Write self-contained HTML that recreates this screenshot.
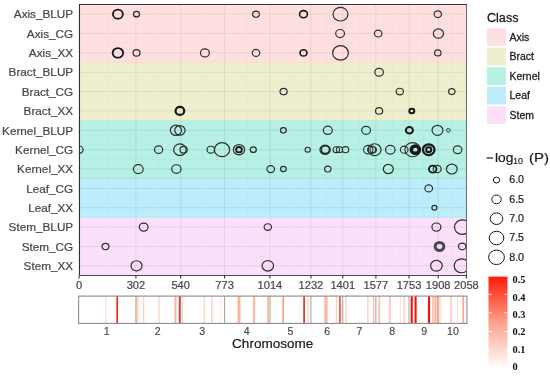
<!DOCTYPE html><html><head><meta charset="utf-8"><style>html,body{margin:0;padding:0;background:#fff;}svg{display:block;filter:blur(0.3px);}text{font-family:"Liberation Sans",sans-serif;}</style></head><body>
<svg width="550" height="377" viewBox="0 0 550 377">
<rect x="0" y="0" width="550" height="377" fill="#fff"/>
<defs><clipPath id="pc"><rect x="79.50" y="4.50" width="387.00" height="271.00"/></clipPath>
<linearGradient id="rg" x1="0" y1="1" x2="0" y2="0"><stop offset="0" stop-color="#FFFFFF"/><stop offset="0.5" stop-color="#FCA28C"/><stop offset="1" stop-color="#FF1A0A"/></linearGradient></defs>
<rect x="79.50" y="4.50" width="387.00" height="58.07" fill="#FDE0DF"/>
<line x1="79.50" x2="466.50" y1="14.18" y2="14.18" stroke="#F4CECE" stroke-width="1"/>
<line x1="79.50" x2="466.50" y1="23.86" y2="23.86" stroke="#FADBDA" stroke-width="1"/>
<line x1="79.50" x2="466.50" y1="33.54" y2="33.54" stroke="#F4CECE" stroke-width="1"/>
<line x1="79.50" x2="466.50" y1="43.21" y2="43.21" stroke="#FADBDA" stroke-width="1"/>
<line x1="79.50" x2="466.50" y1="52.89" y2="52.89" stroke="#F4CECE" stroke-width="1"/>
<line x1="79.10" x2="79.10" y1="4.50" y2="62.57" stroke="#F4CECE" stroke-width="1"/>
<line x1="107.52" x2="107.52" y1="4.50" y2="62.57" stroke="#FADBDA" stroke-width="1"/>
<line x1="135.93" x2="135.93" y1="4.50" y2="62.57" stroke="#F4CECE" stroke-width="1"/>
<line x1="158.33" x2="158.33" y1="4.50" y2="62.57" stroke="#FADBDA" stroke-width="1"/>
<line x1="180.72" x2="180.72" y1="4.50" y2="62.57" stroke="#F4CECE" stroke-width="1"/>
<line x1="202.65" x2="202.65" y1="4.50" y2="62.57" stroke="#FADBDA" stroke-width="1"/>
<line x1="224.57" x2="224.57" y1="4.50" y2="62.57" stroke="#F4CECE" stroke-width="1"/>
<line x1="247.25" x2="247.25" y1="4.50" y2="62.57" stroke="#FADBDA" stroke-width="1"/>
<line x1="269.93" x2="269.93" y1="4.50" y2="62.57" stroke="#F4CECE" stroke-width="1"/>
<line x1="290.44" x2="290.44" y1="4.50" y2="62.57" stroke="#FADBDA" stroke-width="1"/>
<line x1="310.95" x2="310.95" y1="4.50" y2="62.57" stroke="#F4CECE" stroke-width="1"/>
<line x1="326.86" x2="326.86" y1="4.50" y2="62.57" stroke="#FADBDA" stroke-width="1"/>
<line x1="342.76" x2="342.76" y1="4.50" y2="62.57" stroke="#F4CECE" stroke-width="1"/>
<line x1="359.32" x2="359.32" y1="4.50" y2="62.57" stroke="#FADBDA" stroke-width="1"/>
<line x1="375.88" x2="375.88" y1="4.50" y2="62.57" stroke="#F4CECE" stroke-width="1"/>
<line x1="392.44" x2="392.44" y1="4.50" y2="62.57" stroke="#FADBDA" stroke-width="1"/>
<line x1="409.00" x2="409.00" y1="4.50" y2="62.57" stroke="#F4CECE" stroke-width="1"/>
<line x1="423.59" x2="423.59" y1="4.50" y2="62.57" stroke="#FADBDA" stroke-width="1"/>
<line x1="438.17" x2="438.17" y1="4.50" y2="62.57" stroke="#F4CECE" stroke-width="1"/>
<line x1="452.29" x2="452.29" y1="4.50" y2="62.57" stroke="#FADBDA" stroke-width="1"/>
<line x1="466.40" x2="466.40" y1="4.50" y2="62.57" stroke="#F4CECE" stroke-width="1"/>
<rect x="79.50" y="62.57" width="387.00" height="58.07" fill="#EEEFCE"/>
<line x1="79.50" x2="466.50" y1="72.25" y2="72.25" stroke="#DDDEBB" stroke-width="1"/>
<line x1="79.50" x2="466.50" y1="81.93" y2="81.93" stroke="#E9EAC9" stroke-width="1"/>
<line x1="79.50" x2="466.50" y1="91.61" y2="91.61" stroke="#DDDEBB" stroke-width="1"/>
<line x1="79.50" x2="466.50" y1="101.29" y2="101.29" stroke="#E9EAC9" stroke-width="1"/>
<line x1="79.50" x2="466.50" y1="110.96" y2="110.96" stroke="#DDDEBB" stroke-width="1"/>
<line x1="79.10" x2="79.10" y1="62.57" y2="120.64" stroke="#DDDEBB" stroke-width="1"/>
<line x1="107.52" x2="107.52" y1="62.57" y2="120.64" stroke="#E9EAC9" stroke-width="1"/>
<line x1="135.93" x2="135.93" y1="62.57" y2="120.64" stroke="#DDDEBB" stroke-width="1"/>
<line x1="158.33" x2="158.33" y1="62.57" y2="120.64" stroke="#E9EAC9" stroke-width="1"/>
<line x1="180.72" x2="180.72" y1="62.57" y2="120.64" stroke="#DDDEBB" stroke-width="1"/>
<line x1="202.65" x2="202.65" y1="62.57" y2="120.64" stroke="#E9EAC9" stroke-width="1"/>
<line x1="224.57" x2="224.57" y1="62.57" y2="120.64" stroke="#DDDEBB" stroke-width="1"/>
<line x1="247.25" x2="247.25" y1="62.57" y2="120.64" stroke="#E9EAC9" stroke-width="1"/>
<line x1="269.93" x2="269.93" y1="62.57" y2="120.64" stroke="#DDDEBB" stroke-width="1"/>
<line x1="290.44" x2="290.44" y1="62.57" y2="120.64" stroke="#E9EAC9" stroke-width="1"/>
<line x1="310.95" x2="310.95" y1="62.57" y2="120.64" stroke="#DDDEBB" stroke-width="1"/>
<line x1="326.86" x2="326.86" y1="62.57" y2="120.64" stroke="#E9EAC9" stroke-width="1"/>
<line x1="342.76" x2="342.76" y1="62.57" y2="120.64" stroke="#DDDEBB" stroke-width="1"/>
<line x1="359.32" x2="359.32" y1="62.57" y2="120.64" stroke="#E9EAC9" stroke-width="1"/>
<line x1="375.88" x2="375.88" y1="62.57" y2="120.64" stroke="#DDDEBB" stroke-width="1"/>
<line x1="392.44" x2="392.44" y1="62.57" y2="120.64" stroke="#E9EAC9" stroke-width="1"/>
<line x1="409.00" x2="409.00" y1="62.57" y2="120.64" stroke="#DDDEBB" stroke-width="1"/>
<line x1="423.59" x2="423.59" y1="62.57" y2="120.64" stroke="#E9EAC9" stroke-width="1"/>
<line x1="438.17" x2="438.17" y1="62.57" y2="120.64" stroke="#DDDEBB" stroke-width="1"/>
<line x1="452.29" x2="452.29" y1="62.57" y2="120.64" stroke="#E9EAC9" stroke-width="1"/>
<line x1="466.40" x2="466.40" y1="62.57" y2="120.64" stroke="#DDDEBB" stroke-width="1"/>
<rect x="79.50" y="120.64" width="387.00" height="58.07" fill="#B7F0E4"/>
<line x1="79.50" x2="466.50" y1="130.32" y2="130.32" stroke="#A4DDD1" stroke-width="1"/>
<line x1="79.50" x2="466.50" y1="140.00" y2="140.00" stroke="#B3EBDF" stroke-width="1"/>
<line x1="79.50" x2="466.50" y1="149.68" y2="149.68" stroke="#A4DDD1" stroke-width="1"/>
<line x1="79.50" x2="466.50" y1="159.36" y2="159.36" stroke="#B3EBDF" stroke-width="1"/>
<line x1="79.50" x2="466.50" y1="169.04" y2="169.04" stroke="#A4DDD1" stroke-width="1"/>
<line x1="79.10" x2="79.10" y1="120.64" y2="178.71" stroke="#A4DDD1" stroke-width="1"/>
<line x1="107.52" x2="107.52" y1="120.64" y2="178.71" stroke="#B3EBDF" stroke-width="1"/>
<line x1="135.93" x2="135.93" y1="120.64" y2="178.71" stroke="#A4DDD1" stroke-width="1"/>
<line x1="158.33" x2="158.33" y1="120.64" y2="178.71" stroke="#B3EBDF" stroke-width="1"/>
<line x1="180.72" x2="180.72" y1="120.64" y2="178.71" stroke="#A4DDD1" stroke-width="1"/>
<line x1="202.65" x2="202.65" y1="120.64" y2="178.71" stroke="#B3EBDF" stroke-width="1"/>
<line x1="224.57" x2="224.57" y1="120.64" y2="178.71" stroke="#A4DDD1" stroke-width="1"/>
<line x1="247.25" x2="247.25" y1="120.64" y2="178.71" stroke="#B3EBDF" stroke-width="1"/>
<line x1="269.93" x2="269.93" y1="120.64" y2="178.71" stroke="#A4DDD1" stroke-width="1"/>
<line x1="290.44" x2="290.44" y1="120.64" y2="178.71" stroke="#B3EBDF" stroke-width="1"/>
<line x1="310.95" x2="310.95" y1="120.64" y2="178.71" stroke="#A4DDD1" stroke-width="1"/>
<line x1="326.86" x2="326.86" y1="120.64" y2="178.71" stroke="#B3EBDF" stroke-width="1"/>
<line x1="342.76" x2="342.76" y1="120.64" y2="178.71" stroke="#A4DDD1" stroke-width="1"/>
<line x1="359.32" x2="359.32" y1="120.64" y2="178.71" stroke="#B3EBDF" stroke-width="1"/>
<line x1="375.88" x2="375.88" y1="120.64" y2="178.71" stroke="#A4DDD1" stroke-width="1"/>
<line x1="392.44" x2="392.44" y1="120.64" y2="178.71" stroke="#B3EBDF" stroke-width="1"/>
<line x1="409.00" x2="409.00" y1="120.64" y2="178.71" stroke="#A4DDD1" stroke-width="1"/>
<line x1="423.59" x2="423.59" y1="120.64" y2="178.71" stroke="#B3EBDF" stroke-width="1"/>
<line x1="438.17" x2="438.17" y1="120.64" y2="178.71" stroke="#A4DDD1" stroke-width="1"/>
<line x1="452.29" x2="452.29" y1="120.64" y2="178.71" stroke="#B3EBDF" stroke-width="1"/>
<line x1="466.40" x2="466.40" y1="120.64" y2="178.71" stroke="#A4DDD1" stroke-width="1"/>
<rect x="79.50" y="178.71" width="387.00" height="38.71" fill="#BDEDFB"/>
<line x1="79.50" x2="466.50" y1="188.39" y2="188.39" stroke="#AADBEA" stroke-width="1"/>
<line x1="79.50" x2="466.50" y1="198.07" y2="198.07" stroke="#B8E8F6" stroke-width="1"/>
<line x1="79.50" x2="466.50" y1="207.75" y2="207.75" stroke="#AADBEA" stroke-width="1"/>
<line x1="79.10" x2="79.10" y1="178.71" y2="217.43" stroke="#AADBEA" stroke-width="1"/>
<line x1="107.52" x2="107.52" y1="178.71" y2="217.43" stroke="#B8E8F6" stroke-width="1"/>
<line x1="135.93" x2="135.93" y1="178.71" y2="217.43" stroke="#AADBEA" stroke-width="1"/>
<line x1="158.33" x2="158.33" y1="178.71" y2="217.43" stroke="#B8E8F6" stroke-width="1"/>
<line x1="180.72" x2="180.72" y1="178.71" y2="217.43" stroke="#AADBEA" stroke-width="1"/>
<line x1="202.65" x2="202.65" y1="178.71" y2="217.43" stroke="#B8E8F6" stroke-width="1"/>
<line x1="224.57" x2="224.57" y1="178.71" y2="217.43" stroke="#AADBEA" stroke-width="1"/>
<line x1="247.25" x2="247.25" y1="178.71" y2="217.43" stroke="#B8E8F6" stroke-width="1"/>
<line x1="269.93" x2="269.93" y1="178.71" y2="217.43" stroke="#AADBEA" stroke-width="1"/>
<line x1="290.44" x2="290.44" y1="178.71" y2="217.43" stroke="#B8E8F6" stroke-width="1"/>
<line x1="310.95" x2="310.95" y1="178.71" y2="217.43" stroke="#AADBEA" stroke-width="1"/>
<line x1="326.86" x2="326.86" y1="178.71" y2="217.43" stroke="#B8E8F6" stroke-width="1"/>
<line x1="342.76" x2="342.76" y1="178.71" y2="217.43" stroke="#AADBEA" stroke-width="1"/>
<line x1="359.32" x2="359.32" y1="178.71" y2="217.43" stroke="#B8E8F6" stroke-width="1"/>
<line x1="375.88" x2="375.88" y1="178.71" y2="217.43" stroke="#AADBEA" stroke-width="1"/>
<line x1="392.44" x2="392.44" y1="178.71" y2="217.43" stroke="#B8E8F6" stroke-width="1"/>
<line x1="409.00" x2="409.00" y1="178.71" y2="217.43" stroke="#AADBEA" stroke-width="1"/>
<line x1="423.59" x2="423.59" y1="178.71" y2="217.43" stroke="#B8E8F6" stroke-width="1"/>
<line x1="438.17" x2="438.17" y1="178.71" y2="217.43" stroke="#AADBEA" stroke-width="1"/>
<line x1="452.29" x2="452.29" y1="178.71" y2="217.43" stroke="#B8E8F6" stroke-width="1"/>
<line x1="466.40" x2="466.40" y1="178.71" y2="217.43" stroke="#AADBEA" stroke-width="1"/>
<rect x="79.50" y="217.43" width="387.00" height="58.07" fill="#FCE0FA"/>
<line x1="79.50" x2="466.50" y1="227.11" y2="227.11" stroke="#EDCDEB" stroke-width="1"/>
<line x1="79.50" x2="466.50" y1="236.79" y2="236.79" stroke="#F8DBF6" stroke-width="1"/>
<line x1="79.50" x2="466.50" y1="246.46" y2="246.46" stroke="#EDCDEB" stroke-width="1"/>
<line x1="79.50" x2="466.50" y1="256.14" y2="256.14" stroke="#F8DBF6" stroke-width="1"/>
<line x1="79.50" x2="466.50" y1="265.82" y2="265.82" stroke="#EDCDEB" stroke-width="1"/>
<line x1="79.10" x2="79.10" y1="217.43" y2="275.50" stroke="#EDCDEB" stroke-width="1"/>
<line x1="107.52" x2="107.52" y1="217.43" y2="275.50" stroke="#F8DBF6" stroke-width="1"/>
<line x1="135.93" x2="135.93" y1="217.43" y2="275.50" stroke="#EDCDEB" stroke-width="1"/>
<line x1="158.33" x2="158.33" y1="217.43" y2="275.50" stroke="#F8DBF6" stroke-width="1"/>
<line x1="180.72" x2="180.72" y1="217.43" y2="275.50" stroke="#EDCDEB" stroke-width="1"/>
<line x1="202.65" x2="202.65" y1="217.43" y2="275.50" stroke="#F8DBF6" stroke-width="1"/>
<line x1="224.57" x2="224.57" y1="217.43" y2="275.50" stroke="#EDCDEB" stroke-width="1"/>
<line x1="247.25" x2="247.25" y1="217.43" y2="275.50" stroke="#F8DBF6" stroke-width="1"/>
<line x1="269.93" x2="269.93" y1="217.43" y2="275.50" stroke="#EDCDEB" stroke-width="1"/>
<line x1="290.44" x2="290.44" y1="217.43" y2="275.50" stroke="#F8DBF6" stroke-width="1"/>
<line x1="310.95" x2="310.95" y1="217.43" y2="275.50" stroke="#EDCDEB" stroke-width="1"/>
<line x1="326.86" x2="326.86" y1="217.43" y2="275.50" stroke="#F8DBF6" stroke-width="1"/>
<line x1="342.76" x2="342.76" y1="217.43" y2="275.50" stroke="#EDCDEB" stroke-width="1"/>
<line x1="359.32" x2="359.32" y1="217.43" y2="275.50" stroke="#F8DBF6" stroke-width="1"/>
<line x1="375.88" x2="375.88" y1="217.43" y2="275.50" stroke="#EDCDEB" stroke-width="1"/>
<line x1="392.44" x2="392.44" y1="217.43" y2="275.50" stroke="#F8DBF6" stroke-width="1"/>
<line x1="409.00" x2="409.00" y1="217.43" y2="275.50" stroke="#EDCDEB" stroke-width="1"/>
<line x1="423.59" x2="423.59" y1="217.43" y2="275.50" stroke="#F8DBF6" stroke-width="1"/>
<line x1="438.17" x2="438.17" y1="217.43" y2="275.50" stroke="#EDCDEB" stroke-width="1"/>
<line x1="452.29" x2="452.29" y1="217.43" y2="275.50" stroke="#F8DBF6" stroke-width="1"/>
<line x1="466.40" x2="466.40" y1="217.43" y2="275.50" stroke="#EDCDEB" stroke-width="1"/>
<line x1="79.50" x2="466.50" y1="62.27" y2="62.27" stroke="#F3DEC8" stroke-width="1"/>
<line x1="79.50" x2="466.50" y1="120.34" y2="120.34" stroke="#CDE6CD" stroke-width="1"/>
<line x1="79.50" x2="466.50" y1="178.41" y2="178.41" stroke="#A8E2D8" stroke-width="1"/>
<line x1="79.50" x2="466.50" y1="217.13" y2="217.13" stroke="#B2E6F6" stroke-width="1"/>
<g clip-path="url(#pc)" fill="none" stroke="#2e2e2e">
<ellipse cx="117.90" cy="14.18" rx="4.95" ry="4.54" stroke-width="1.80" stroke="#161616"/>
<ellipse cx="136.50" cy="14.18" rx="3.00" ry="2.75" stroke-width="1.20"/>
<ellipse cx="256.00" cy="14.18" rx="3.35" ry="3.07" stroke-width="1.20"/>
<ellipse cx="303.50" cy="14.18" rx="3.90" ry="3.58" stroke-width="1.60" stroke="#161616"/>
<ellipse cx="340.50" cy="14.18" rx="7.45" ry="6.83" stroke-width="1.20"/>
<ellipse cx="437.80" cy="14.18" rx="3.65" ry="3.35" stroke-width="1.20"/>
<ellipse cx="340.10" cy="33.54" rx="4.40" ry="4.04" stroke-width="1.20"/>
<ellipse cx="378.20" cy="33.54" rx="3.75" ry="3.44" stroke-width="1.20"/>
<ellipse cx="438.40" cy="33.54" rx="5.10" ry="4.68" stroke-width="1.20"/>
<ellipse cx="117.90" cy="52.89" rx="5.25" ry="4.82" stroke-width="1.80" stroke="#161616"/>
<ellipse cx="136.50" cy="52.89" rx="3.45" ry="3.17" stroke-width="1.20"/>
<ellipse cx="204.90" cy="52.89" rx="4.45" ry="4.08" stroke-width="1.20"/>
<ellipse cx="256.00" cy="52.89" rx="3.75" ry="3.44" stroke-width="1.20"/>
<ellipse cx="303.50" cy="52.89" rx="3.45" ry="3.17" stroke-width="1.60" stroke="#161616"/>
<ellipse cx="340.50" cy="52.89" rx="7.85" ry="7.20" stroke-width="1.20"/>
<ellipse cx="437.80" cy="52.89" rx="3.25" ry="2.98" stroke-width="1.20"/>
<ellipse cx="379.10" cy="72.25" rx="4.30" ry="3.94" stroke-width="1.20"/>
<ellipse cx="283.60" cy="91.61" rx="3.55" ry="3.26" stroke-width="1.20"/>
<ellipse cx="399.80" cy="91.61" rx="3.65" ry="3.35" stroke-width="1.20"/>
<ellipse cx="451.80" cy="91.61" rx="3.20" ry="2.94" stroke-width="1.20"/>
<ellipse cx="179.90" cy="110.96" rx="4.35" ry="3.99" stroke-width="2.20" stroke="#161616"/>
<ellipse cx="379.10" cy="110.96" rx="3.55" ry="3.26" stroke-width="1.20"/>
<ellipse cx="411.80" cy="110.96" rx="2.50" ry="2.29" stroke-width="2.00" stroke="#161616"/>
<ellipse cx="175.90" cy="130.32" rx="5.60" ry="5.14" stroke-width="1.20"/>
<ellipse cx="179.90" cy="130.32" rx="5.20" ry="4.77" stroke-width="1.20"/>
<ellipse cx="283.40" cy="130.32" rx="2.95" ry="2.71" stroke-width="1.20"/>
<ellipse cx="327.80" cy="130.32" rx="4.50" ry="4.13" stroke-width="1.20"/>
<ellipse cx="366.10" cy="130.32" rx="4.40" ry="4.04" stroke-width="1.20"/>
<ellipse cx="409.40" cy="130.32" rx="3.55" ry="3.26" stroke-width="2.00" stroke="#161616"/>
<ellipse cx="437.50" cy="130.32" rx="5.45" ry="5.00" stroke-width="1.20"/>
<ellipse cx="448.30" cy="130.32" rx="1.90" ry="1.74" stroke-width="1.00"/>
<ellipse cx="79.10" cy="149.68" rx="4.00" ry="3.67" stroke-width="1.20"/>
<ellipse cx="158.60" cy="149.68" rx="4.10" ry="3.76" stroke-width="1.20"/>
<ellipse cx="179.90" cy="149.68" rx="6.25" ry="5.73" stroke-width="1.20"/>
<ellipse cx="183.60" cy="149.68" rx="3.60" ry="3.30" stroke-width="1.20"/>
<ellipse cx="210.80" cy="149.68" rx="3.75" ry="3.44" stroke-width="1.20"/>
<ellipse cx="222.00" cy="149.68" rx="7.60" ry="6.97" stroke-width="1.20"/>
<ellipse cx="239.00" cy="149.68" rx="5.60" ry="5.14" stroke-width="1.20"/>
<ellipse cx="239.00" cy="149.68" rx="2.90" ry="2.66" stroke-width="1.80" stroke="#161616"/>
<ellipse cx="253.30" cy="149.68" rx="3.00" ry="2.75" stroke-width="1.20"/>
<ellipse cx="307.70" cy="149.68" rx="2.65" ry="2.43" stroke-width="1.10"/>
<ellipse cx="325.00" cy="149.68" rx="5.00" ry="4.59" stroke-width="1.30"/>
<ellipse cx="325.80" cy="149.68" rx="4.35" ry="3.99" stroke-width="1.20"/>
<ellipse cx="325.30" cy="149.68" rx="4.00" ry="3.67" stroke-width="1.20"/>
<ellipse cx="336.30" cy="149.68" rx="3.25" ry="2.98" stroke-width="1.10"/>
<ellipse cx="339.50" cy="149.68" rx="3.15" ry="2.89" stroke-width="1.10"/>
<ellipse cx="345.50" cy="149.68" rx="3.30" ry="3.03" stroke-width="1.10"/>
<ellipse cx="368.30" cy="149.68" rx="4.70" ry="4.31" stroke-width="1.10"/>
<ellipse cx="371.60" cy="149.68" rx="4.00" ry="3.67" stroke-width="1.10"/>
<ellipse cx="373.20" cy="149.68" rx="3.25" ry="2.98" stroke-width="1.10"/>
<ellipse cx="374.60" cy="149.68" rx="6.45" ry="5.92" stroke-width="1.20"/>
<ellipse cx="390.30" cy="149.68" rx="4.75" ry="4.36" stroke-width="1.20"/>
<ellipse cx="404.20" cy="149.68" rx="3.85" ry="3.53" stroke-width="1.10"/>
<ellipse cx="412.60" cy="149.68" rx="7.70" ry="7.06" stroke-width="1.10"/>
<ellipse cx="415.30" cy="149.68" rx="4.00" ry="3.67" stroke-width="3.50" stroke="#161616"/>
<ellipse cx="428.70" cy="149.68" rx="5.85" ry="5.37" stroke-width="2.20" stroke="#161616"/>
<ellipse cx="428.70" cy="149.68" rx="5.15" ry="4.72" stroke-width="0.80"/>
<ellipse cx="428.70" cy="149.68" rx="2.60" ry="2.39" stroke-width="2.00" stroke="#161616"/>
<ellipse cx="457.60" cy="149.68" rx="4.25" ry="3.90" stroke-width="1.20"/>
<ellipse cx="138.30" cy="169.04" rx="4.90" ry="4.50" stroke-width="1.20"/>
<ellipse cx="176.40" cy="169.04" rx="4.65" ry="4.27" stroke-width="1.20"/>
<ellipse cx="270.70" cy="169.04" rx="3.80" ry="3.49" stroke-width="1.20"/>
<ellipse cx="283.40" cy="169.04" rx="2.80" ry="2.57" stroke-width="1.20"/>
<ellipse cx="327.80" cy="169.04" rx="3.20" ry="2.94" stroke-width="1.20"/>
<ellipse cx="388.30" cy="169.04" rx="5.00" ry="4.59" stroke-width="1.20"/>
<ellipse cx="432.70" cy="169.04" rx="3.80" ry="3.49" stroke-width="1.80" stroke="#161616"/>
<ellipse cx="437.20" cy="169.04" rx="4.00" ry="3.67" stroke-width="1.20"/>
<ellipse cx="451.80" cy="169.04" rx="5.40" ry="4.95" stroke-width="1.20"/>
<ellipse cx="428.70" cy="188.39" rx="3.80" ry="3.49" stroke-width="1.20"/>
<ellipse cx="434.40" cy="207.75" rx="2.55" ry="2.34" stroke-width="1.20"/>
<ellipse cx="143.70" cy="227.11" rx="4.40" ry="4.04" stroke-width="1.20"/>
<ellipse cx="267.80" cy="227.11" rx="3.65" ry="3.35" stroke-width="1.20"/>
<ellipse cx="436.40" cy="227.11" rx="4.50" ry="4.13" stroke-width="1.20"/>
<ellipse cx="462.40" cy="227.11" rx="7.95" ry="7.29" stroke-width="1.20"/>
<ellipse cx="105.50" cy="246.46" rx="3.45" ry="3.17" stroke-width="1.20"/>
<ellipse cx="439.50" cy="246.46" rx="4.35" ry="3.99" stroke-width="3.00" stroke="#484848"/>
<ellipse cx="462.20" cy="246.46" rx="3.70" ry="3.39" stroke-width="1.20"/>
<ellipse cx="136.50" cy="265.82" rx="5.55" ry="5.09" stroke-width="1.20"/>
<ellipse cx="267.80" cy="265.82" rx="5.75" ry="5.28" stroke-width="1.20"/>
<ellipse cx="436.40" cy="265.82" rx="5.85" ry="5.37" stroke-width="1.20"/>
<ellipse cx="461.70" cy="265.82" rx="7.55" ry="6.93" stroke-width="1.20"/>
</g>
<path d="M79.00 4.50 H467.00 M79.50 4.50 V275.50" fill="none" stroke="#333" stroke-width="1.05"/>
<line x1="80.00" x2="467.00" y1="275.50" y2="275.50" stroke="#4a4a4a" stroke-width="1"/>
<line x1="466.50" x2="466.50" y1="5.00" y2="275.00" stroke="#6a6a6a" stroke-width="1"/>
<text x="73.2" y="18.38" font-size="10.5" fill="#474747" stroke="#474747" stroke-width="0.2" text-anchor="end" transform="translate(73.2 0) scale(1.12 1) translate(-73.2 0)">Axis_BLUP</text>
<text x="73.2" y="37.74" font-size="10.5" fill="#474747" stroke="#474747" stroke-width="0.2" text-anchor="end" transform="translate(73.2 0) scale(1.12 1) translate(-73.2 0)">Axis_CG</text>
<text x="73.2" y="57.09" font-size="10.5" fill="#474747" stroke="#474747" stroke-width="0.2" text-anchor="end" transform="translate(73.2 0) scale(1.12 1) translate(-73.2 0)">Axis_XX</text>
<text x="73.2" y="76.45" font-size="10.5" fill="#474747" stroke="#474747" stroke-width="0.2" text-anchor="end" transform="translate(73.2 0) scale(1.12 1) translate(-73.2 0)">Bract_BLUP</text>
<text x="73.2" y="95.81" font-size="10.5" fill="#474747" stroke="#474747" stroke-width="0.2" text-anchor="end" transform="translate(73.2 0) scale(1.12 1) translate(-73.2 0)">Bract_CG</text>
<text x="73.2" y="115.16" font-size="10.5" fill="#474747" stroke="#474747" stroke-width="0.2" text-anchor="end" transform="translate(73.2 0) scale(1.12 1) translate(-73.2 0)">Bract_XX</text>
<text x="73.2" y="134.52" font-size="10.5" fill="#474747" stroke="#474747" stroke-width="0.2" text-anchor="end" transform="translate(73.2 0) scale(1.12 1) translate(-73.2 0)">Kernel_BLUP</text>
<text x="73.2" y="153.88" font-size="10.5" fill="#474747" stroke="#474747" stroke-width="0.2" text-anchor="end" transform="translate(73.2 0) scale(1.12 1) translate(-73.2 0)">Kernel_CG</text>
<text x="73.2" y="173.24" font-size="10.5" fill="#474747" stroke="#474747" stroke-width="0.2" text-anchor="end" transform="translate(73.2 0) scale(1.12 1) translate(-73.2 0)">Kernel_XX</text>
<text x="73.2" y="192.59" font-size="10.5" fill="#474747" stroke="#474747" stroke-width="0.2" text-anchor="end" transform="translate(73.2 0) scale(1.12 1) translate(-73.2 0)">Leaf_CG</text>
<text x="73.2" y="211.95" font-size="10.5" fill="#474747" stroke="#474747" stroke-width="0.2" text-anchor="end" transform="translate(73.2 0) scale(1.12 1) translate(-73.2 0)">Leaf_XX</text>
<text x="73.2" y="231.31" font-size="10.5" fill="#474747" stroke="#474747" stroke-width="0.2" text-anchor="end" transform="translate(73.2 0) scale(1.12 1) translate(-73.2 0)">Stem_BLUP</text>
<text x="73.2" y="250.66" font-size="10.5" fill="#474747" stroke="#474747" stroke-width="0.2" text-anchor="end" transform="translate(73.2 0) scale(1.12 1) translate(-73.2 0)">Stem_CG</text>
<text x="73.2" y="270.02" font-size="10.5" fill="#474747" stroke="#474747" stroke-width="0.2" text-anchor="end" transform="translate(73.2 0) scale(1.12 1) translate(-73.2 0)">Stem_XX</text>
<line x1="79.10" x2="79.10" y1="275.50" y2="278.50" stroke="#333" stroke-width="1.1"/>
<text x="79.10" y="289.1" font-size="10.2" fill="#474747" stroke="#474747" stroke-width="0.2" text-anchor="middle" transform="translate(79.10 0) scale(1.09 1) translate(-79.10 0)">0</text>
<line x1="135.93" x2="135.93" y1="275.50" y2="278.50" stroke="#333" stroke-width="1.1"/>
<text x="135.93" y="289.1" font-size="10.2" fill="#474747" stroke="#474747" stroke-width="0.2" text-anchor="middle" transform="translate(135.93 0) scale(1.09 1) translate(-135.93 0)">302</text>
<line x1="180.72" x2="180.72" y1="275.50" y2="278.50" stroke="#333" stroke-width="1.1"/>
<text x="180.72" y="289.1" font-size="10.2" fill="#474747" stroke="#474747" stroke-width="0.2" text-anchor="middle" transform="translate(180.72 0) scale(1.09 1) translate(-180.72 0)">540</text>
<line x1="224.57" x2="224.57" y1="275.50" y2="278.50" stroke="#333" stroke-width="1.1"/>
<text x="224.57" y="289.1" font-size="10.2" fill="#474747" stroke="#474747" stroke-width="0.2" text-anchor="middle" transform="translate(224.57 0) scale(1.09 1) translate(-224.57 0)">773</text>
<line x1="269.93" x2="269.93" y1="275.50" y2="278.50" stroke="#333" stroke-width="1.1"/>
<text x="269.93" y="289.1" font-size="10.2" fill="#474747" stroke="#474747" stroke-width="0.2" text-anchor="middle" transform="translate(269.93 0) scale(1.09 1) translate(-269.93 0)">1014</text>
<line x1="310.95" x2="310.95" y1="275.50" y2="278.50" stroke="#333" stroke-width="1.1"/>
<text x="310.95" y="289.1" font-size="10.2" fill="#474747" stroke="#474747" stroke-width="0.2" text-anchor="middle" transform="translate(310.95 0) scale(1.09 1) translate(-310.95 0)">1232</text>
<line x1="342.76" x2="342.76" y1="275.50" y2="278.50" stroke="#333" stroke-width="1.1"/>
<text x="342.76" y="289.1" font-size="10.2" fill="#474747" stroke="#474747" stroke-width="0.2" text-anchor="middle" transform="translate(342.76 0) scale(1.09 1) translate(-342.76 0)">1401</text>
<line x1="375.88" x2="375.88" y1="275.50" y2="278.50" stroke="#333" stroke-width="1.1"/>
<text x="375.88" y="289.1" font-size="10.2" fill="#474747" stroke="#474747" stroke-width="0.2" text-anchor="middle" transform="translate(375.88 0) scale(1.09 1) translate(-375.88 0)">1577</text>
<line x1="409.00" x2="409.00" y1="275.50" y2="278.50" stroke="#333" stroke-width="1.1"/>
<text x="409.00" y="289.1" font-size="10.2" fill="#474747" stroke="#474747" stroke-width="0.2" text-anchor="middle" transform="translate(409.00 0) scale(1.09 1) translate(-409.00 0)">1753</text>
<line x1="438.17" x2="438.17" y1="275.50" y2="278.50" stroke="#333" stroke-width="1.1"/>
<text x="438.17" y="289.1" font-size="10.2" fill="#474747" stroke="#474747" stroke-width="0.2" text-anchor="middle" transform="translate(438.17 0) scale(1.09 1) translate(-438.17 0)">1908</text>
<line x1="466.40" x2="466.40" y1="275.50" y2="278.50" stroke="#333" stroke-width="1.1"/>
<text x="466.40" y="289.1" font-size="10.2" fill="#474747" stroke="#474747" stroke-width="0.2" text-anchor="middle" transform="translate(466.40 0) scale(1.09 1) translate(-466.40 0)">2058</text>
<rect x="78.60" y="296.10" width="388.30" height="27.30" fill="#fff"/>
<line x1="135.93" x2="135.93" y1="296.10" y2="323.40" stroke="#8a8a8a" stroke-width="0.8"/>
<line x1="180.72" x2="180.72" y1="296.10" y2="323.40" stroke="#8a8a8a" stroke-width="0.8"/>
<line x1="224.57" x2="224.57" y1="296.10" y2="323.40" stroke="#8a8a8a" stroke-width="0.8"/>
<line x1="269.93" x2="269.93" y1="296.10" y2="323.40" stroke="#8a8a8a" stroke-width="0.8"/>
<line x1="310.95" x2="310.95" y1="296.10" y2="323.40" stroke="#8a8a8a" stroke-width="0.8"/>
<line x1="342.76" x2="342.76" y1="296.10" y2="323.40" stroke="#8a8a8a" stroke-width="0.8"/>
<line x1="375.88" x2="375.88" y1="296.10" y2="323.40" stroke="#8a8a8a" stroke-width="0.8"/>
<line x1="409.00" x2="409.00" y1="296.10" y2="323.40" stroke="#8a8a8a" stroke-width="0.8"/>
<line x1="438.17" x2="438.17" y1="296.10" y2="323.40" stroke="#8a8a8a" stroke-width="0.8"/>
<rect x="105.40" y="296.10" width="1.00" height="27.30" fill="#FDD3C6"/>
<rect x="116.35" y="296.10" width="1.70" height="27.30" fill="#F42A14"/>
<rect x="136.00" y="296.10" width="1.60" height="27.30" fill="#FBB5A0"/>
<rect x="137.40" y="296.10" width="1.20" height="27.30" fill="#FDD8CC"/>
<rect x="143.10" y="296.10" width="1.20" height="27.30" fill="#FDCDBE"/>
<rect x="158.40" y="296.10" width="1.20" height="27.30" fill="#FDCDBE"/>
<rect x="174.60" y="296.10" width="1.80" height="27.30" fill="#FAB09A"/>
<rect x="178.80" y="296.10" width="1.60" height="27.30" fill="#F02E18"/>
<rect x="182.20" y="296.10" width="1.00" height="27.30" fill="#FDD3C6"/>
<rect x="203.60" y="296.10" width="1.20" height="27.30" fill="#FDCDBE"/>
<rect x="211.20" y="296.10" width="1.20" height="27.30" fill="#FDC8B8"/>
<rect x="220.40" y="296.10" width="1.00" height="27.30" fill="#FEE4DC"/>
<rect x="237.50" y="296.10" width="3.00" height="27.30" fill="#FBB4A0"/>
<rect x="252.80" y="296.10" width="2.40" height="27.30" fill="#FBBCA8"/>
<rect x="267.20" y="296.10" width="2.60" height="27.30" fill="#FBBAA5"/>
<rect x="282.40" y="296.10" width="1.60" height="27.30" fill="#F99C84"/>
<rect x="303.25" y="296.10" width="1.70" height="27.30" fill="#F02A16"/>
<rect x="307.50" y="296.10" width="1.20" height="27.30" fill="#FDD3C6"/>
<rect x="324.20" y="296.10" width="3.40" height="27.30" fill="#FBB8A3"/>
<rect x="335.70" y="296.10" width="1.20" height="27.30" fill="#FDCDBE"/>
<rect x="338.90" y="296.10" width="2.00" height="27.30" fill="#F46A50"/>
<rect x="345.30" y="296.10" width="1.20" height="27.30" fill="#FDCDBE"/>
<rect x="367.10" y="296.10" width="1.60" height="27.30" fill="#FDD3C5"/>
<rect x="372.80" y="296.10" width="1.60" height="27.30" fill="#FCC0AC"/>
<rect x="378.30" y="296.10" width="2.00" height="27.30" fill="#FCC4B2"/>
<rect x="388.80" y="296.10" width="2.00" height="27.30" fill="#FDCCBC"/>
<rect x="399.80" y="296.10" width="1.00" height="27.30" fill="#FEE0D6"/>
<rect x="403.40" y="296.10" width="1.40" height="27.30" fill="#FDCDBE"/>
<rect x="410.65" y="296.10" width="2.10" height="27.30" fill="#FA0C06"/>
<rect x="414.60" y="296.10" width="2.00" height="27.30" fill="#FA0C06"/>
<rect x="427.95" y="296.10" width="2.10" height="27.30" fill="#FA0C06"/>
<rect x="432.10" y="296.10" width="1.80" height="27.30" fill="#FCC2AE"/>
<rect x="434.40" y="296.10" width="1.80" height="27.30" fill="#FBB4A0"/>
<rect x="436.70" y="296.10" width="1.40" height="27.30" fill="#F8A088"/>
<rect x="439.40" y="296.10" width="1.20" height="27.30" fill="#FDCDBE"/>
<rect x="450.30" y="296.10" width="1.40" height="27.30" fill="#FCC4B2"/>
<rect x="457.10" y="296.10" width="1.00" height="27.30" fill="#FEE0D6"/>
<rect x="462.40" y="296.10" width="1.80" height="27.30" fill="#F9A78E"/>
<rect x="78.60" y="296.10" width="388.30" height="27.30" fill="none" stroke="#8c8c8c" stroke-width="1.1"/>
<text x="106.80" y="335.0" font-size="10.6" fill="#474747" stroke="#474747" stroke-width="0.15" text-anchor="middle">1</text>
<text x="157.80" y="335.0" font-size="10.6" fill="#474747" stroke="#474747" stroke-width="0.15" text-anchor="middle">2</text>
<text x="202.20" y="335.0" font-size="10.6" fill="#474747" stroke="#474747" stroke-width="0.15" text-anchor="middle">3</text>
<text x="246.80" y="335.0" font-size="10.6" fill="#474747" stroke="#474747" stroke-width="0.15" text-anchor="middle">4</text>
<text x="290.40" y="335.0" font-size="10.6" fill="#474747" stroke="#474747" stroke-width="0.15" text-anchor="middle">5</text>
<text x="327.10" y="335.0" font-size="10.6" fill="#474747" stroke="#474747" stroke-width="0.15" text-anchor="middle">6</text>
<text x="359.40" y="335.0" font-size="10.6" fill="#474747" stroke="#474747" stroke-width="0.15" text-anchor="middle">7</text>
<text x="392.30" y="335.0" font-size="10.6" fill="#474747" stroke="#474747" stroke-width="0.15" text-anchor="middle">8</text>
<text x="424.20" y="335.0" font-size="10.6" fill="#474747" stroke="#474747" stroke-width="0.15" text-anchor="middle">9</text>
<text x="452.90" y="335.0" font-size="10.6" fill="#474747" stroke="#474747" stroke-width="0.15" text-anchor="middle">10</text>
<text x="272.7" y="348" font-size="12.2" fill="#1a1a1a" stroke="#1a1a1a" stroke-width="0.2" text-anchor="middle" transform="translate(272.7 0) scale(1.11 1) translate(-272.7 0)">Chromosome</text>
<text x="486.9" y="21.9" font-size="12.3" fill="#1a1a1a" stroke="#1a1a1a" stroke-width="0.25" transform="translate(486.9 0) scale(1.03 1) translate(-486.9 0)">Class</text>
<rect x="487" y="28.30" width="19" height="17.6" fill="#FDE0DF"/>
<text x="509.5" y="40.70" font-size="10" fill="#1a1a1a" stroke="#1a1a1a" stroke-width="0.25" transform="translate(509.5 0) scale(1.05 1) translate(-509.5 0)">Axis</text>
<rect x="487" y="47.80" width="19" height="17.6" fill="#EEEFCE"/>
<text x="509.5" y="60.20" font-size="10" fill="#1a1a1a" stroke="#1a1a1a" stroke-width="0.25" transform="translate(509.5 0) scale(1.05 1) translate(-509.5 0)">Bract</text>
<rect x="487" y="67.30" width="19" height="17.6" fill="#B7F0E4"/>
<text x="509.5" y="79.70" font-size="10" fill="#1a1a1a" stroke="#1a1a1a" stroke-width="0.25" transform="translate(509.5 0) scale(1.05 1) translate(-509.5 0)">Kernel</text>
<rect x="487" y="86.80" width="19" height="17.6" fill="#BDEDFB"/>
<text x="509.5" y="99.20" font-size="10" fill="#1a1a1a" stroke="#1a1a1a" stroke-width="0.25" transform="translate(509.5 0) scale(1.05 1) translate(-509.5 0)">Leaf</text>
<rect x="487" y="106.30" width="19" height="17.6" fill="#FCE0FA"/>
<text x="509.5" y="118.70" font-size="10" fill="#1a1a1a" stroke="#1a1a1a" stroke-width="0.25" transform="translate(509.5 0) scale(1.05 1) translate(-509.5 0)">Stem</text>
<rect x="486.6" y="157.4" width="6.4" height="1.2" fill="#1a1a1a"/>
<text x="495.0" y="162.1" font-size="12" fill="#1a1a1a" stroke="#1a1a1a" stroke-width="0.2" transform="translate(495.0 0) scale(1.15 1) translate(-495.0 0)">log</text>
<text x="513.0" y="163.6" font-size="9" fill="#1a1a1a" stroke="#1a1a1a" stroke-width="0.15" transform="translate(513.0 0) scale(1.0 1) translate(-513.0 0)">10</text>
<text x="529.0" y="162.1" font-size="12.4" fill="#1a1a1a" stroke="#1a1a1a" stroke-width="0.2" transform="translate(529.0 0) scale(1.21 1) translate(-529.0 0)">(P)</text>
<ellipse cx="496.5" cy="180.10" rx="3.25" ry="2.98" fill="none" stroke="#1a1a1a" stroke-width="1.0"/>
<text x="509.2" y="183.50" font-size="10.4" fill="#1a1a1a" stroke="#1a1a1a" stroke-width="0.2" transform="translate(509.2 0) scale(1.03 1) translate(-509.2 0)">6.0</text>
<ellipse cx="496.5" cy="199.40" rx="4.75" ry="4.36" fill="none" stroke="#1a1a1a" stroke-width="1.0"/>
<text x="509.2" y="202.80" font-size="10.4" fill="#1a1a1a" stroke="#1a1a1a" stroke-width="0.2" transform="translate(509.2 0) scale(1.03 1) translate(-509.2 0)">6.5</text>
<ellipse cx="496.5" cy="218.70" rx="6.30" ry="5.78" fill="none" stroke="#1a1a1a" stroke-width="1.0"/>
<text x="509.2" y="222.10" font-size="10.4" fill="#1a1a1a" stroke="#1a1a1a" stroke-width="0.2" transform="translate(509.2 0) scale(1.03 1) translate(-509.2 0)">7.0</text>
<ellipse cx="496.5" cy="238.00" rx="7.35" ry="6.74" fill="none" stroke="#1a1a1a" stroke-width="1.0"/>
<text x="509.2" y="241.40" font-size="10.4" fill="#1a1a1a" stroke="#1a1a1a" stroke-width="0.2" transform="translate(509.2 0) scale(1.03 1) translate(-509.2 0)">7.5</text>
<ellipse cx="496.5" cy="257.30" rx="7.90" ry="7.25" fill="none" stroke="#1a1a1a" stroke-width="1.0"/>
<text x="509.2" y="260.70" font-size="10.4" fill="#1a1a1a" stroke="#1a1a1a" stroke-width="0.2" transform="translate(509.2 0) scale(1.03 1) translate(-509.2 0)">8.0</text>
<rect x="488.5" y="276.6" width="19" height="92" fill="url(#rg)"/>
<line x1="488.5" x2="492.2" y1="294.30" y2="294.30" stroke="#fff" stroke-width="0.8"/>
<line x1="503.8" x2="507.5" y1="294.30" y2="294.30" stroke="#fff" stroke-width="0.8"/>
<line x1="488.5" x2="492.2" y1="312.80" y2="312.80" stroke="#fff" stroke-width="0.8"/>
<line x1="503.8" x2="507.5" y1="312.80" y2="312.80" stroke="#fff" stroke-width="0.8"/>
<line x1="488.5" x2="492.2" y1="331.50" y2="331.50" stroke="#fff" stroke-width="0.8"/>
<line x1="503.8" x2="507.5" y1="331.50" y2="331.50" stroke="#fff" stroke-width="0.8"/>
<line x1="488.5" x2="492.2" y1="350.50" y2="350.50" stroke="#fff" stroke-width="0.8"/>
<line x1="503.8" x2="507.5" y1="350.50" y2="350.50" stroke="#fff" stroke-width="0.8"/>
<text x="512.5" y="370.40" font-size="9.4" fill="#111" font-weight="bold" style="font-family:'Liberation Serif',serif" transform="translate(512.5 0) scale(1.1 1) translate(-512.5 0)">0</text>
<text x="512.5" y="353.30" font-size="9.4" fill="#111" font-weight="bold" style="font-family:'Liberation Serif',serif" transform="translate(512.5 0) scale(1.1 1) translate(-512.5 0)">0.1</text>
<text x="512.5" y="335.30" font-size="9.4" fill="#111" font-weight="bold" style="font-family:'Liberation Serif',serif" transform="translate(512.5 0) scale(1.1 1) translate(-512.5 0)">0.2</text>
<text x="512.5" y="318.30" font-size="9.4" fill="#111" font-weight="bold" style="font-family:'Liberation Serif',serif" transform="translate(512.5 0) scale(1.1 1) translate(-512.5 0)">0.3</text>
<text x="512.5" y="300.80" font-size="9.4" fill="#111" font-weight="bold" style="font-family:'Liberation Serif',serif" transform="translate(512.5 0) scale(1.1 1) translate(-512.5 0)">0.4</text>
<text x="512.5" y="282.60" font-size="9.4" fill="#111" font-weight="bold" style="font-family:'Liberation Serif',serif" transform="translate(512.5 0) scale(1.1 1) translate(-512.5 0)">0.5</text>
</svg></body></html>
